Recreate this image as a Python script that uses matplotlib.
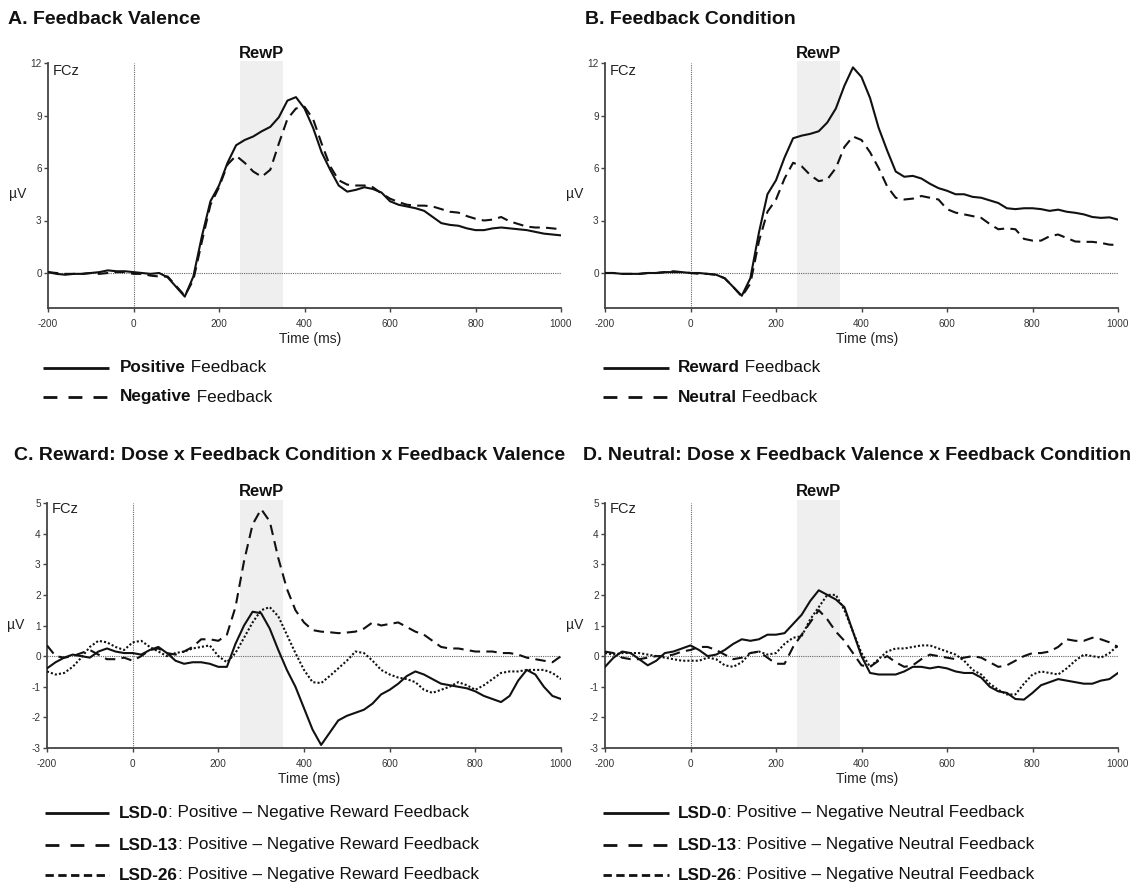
import numpy as np
import matplotlib
matplotlib.use('Agg')
import matplotlib.pyplot as plt
from matplotlib.lines import Line2D

plt.rcParams['font.family'] = ['Liberation Sans', 'DejaVu Sans']
plt.rcParams['axes.unicode_minus'] = False

# time grid (ms), shared by all curves
times = list(range(-200, 1001, 20))

# A. Feedback Valence
pos_fb = [0.05, -0.05, -0.1, -0.05, -0.05, 0.0, 0.05, 0.15, 0.1, 0.1, 0.05, 0.0, -0.05, 0.0, -0.25, -0.8,
          -1.35, -0.2, 2.1, 4.1, 5.0, 6.3, 7.3, 7.6, 7.8, 8.1, 8.35, 8.9, 9.85, 10.05, 9.4, 8.3, 6.9, 5.9,
          5.0, 4.65, 4.75, 4.9, 4.8, 4.6, 4.1, 3.9, 3.8, 3.7, 3.55, 3.2, 2.85, 2.75, 2.7, 2.55, 2.45, 2.45,
          2.55, 2.6, 2.55, 2.5, 2.45, 2.35, 2.25, 2.2, 2.15]
neg_fb = [0.05, 0.0, -0.05, -0.05, -0.05, 0.0, -0.05, 0.0, 0.05, 0.05, -0.05, -0.05, -0.15, -0.2, -0.2, -0.75,
          -1.3, -0.4, 1.8, 3.9, 4.9, 6.2, 6.7, 6.3, 5.8, 5.5, 5.9, 7.4, 8.8, 9.4, 9.5, 8.8, 7.4, 6.1,
          5.3, 5.05, 5.0, 5.0, 4.9, 4.55, 4.25, 4.05, 3.9, 3.85, 3.85, 3.8, 3.65, 3.5, 3.45, 3.25, 3.1, 3.0,
          3.05, 3.2, 2.95, 2.8, 2.65, 2.6, 2.6, 2.55, 2.5]

# B. Feedback Condition
reward_fb = [0.0, 0.0, -0.05, -0.05, -0.05, 0.0, 0.0, 0.05, 0.05, 0.05, 0.0, 0.0, -0.05, -0.1, -0.3, -0.8,
             -1.3, -0.3, 2.3, 4.5, 5.3, 6.6, 7.7, 7.85, 7.95, 8.1, 8.6, 9.4, 10.7, 11.75, 11.2, 10.0, 8.3, 7.0,
             5.8, 5.5, 5.55, 5.4, 5.1, 4.85, 4.7, 4.5, 4.5, 4.35, 4.3, 4.15, 4.0, 3.7, 3.65, 3.7, 3.7, 3.65,
             3.55, 3.62, 3.5, 3.44, 3.35, 3.2, 3.15, 3.18, 3.05]
neutral_fb = [0.0, 0.0, -0.05, -0.05, -0.05, 0.0, 0.0, 0.05, 0.1, 0.05, 0.0, -0.05, -0.05, -0.1, -0.3, -0.8,
              -1.35, -0.6, 1.8, 3.5, 4.2, 5.4, 6.3, 6.1, 5.6, 5.25, 5.35, 6.0, 7.2, 7.8, 7.6, 6.9, 6.0, 4.95,
              4.3, 4.2, 4.25, 4.4, 4.3, 4.2, 3.65, 3.45, 3.35, 3.25, 3.15, 2.8, 2.5, 2.55, 2.5, 1.95, 1.85, 1.85,
              2.1, 2.2, 2.0, 1.8, 1.78, 1.78, 1.72, 1.62, 1.6]

# C. Reward difference waves
rew_lsd0 = [-0.4, -0.2, -0.05, 0.05, 0.0, -0.05, 0.15, 0.25, 0.15, 0.1, 0.1, 0.05, 0.2, 0.3, 0.1, -0.15,
            -0.25, -0.2, -0.2, -0.25, -0.35, -0.35, 0.4, 1.0, 1.45, 1.4, 0.9, 0.2, -0.45, -1.0, -1.7, -2.4,
            -2.9, -2.5, -2.1, -1.95, -1.85, -1.75, -1.55, -1.25, -1.1, -0.9, -0.65, -0.5, -0.6, -0.75, -0.9,
            -0.95, -1.0, -1.05, -1.15, -1.3, -1.4, -1.5, -1.3, -0.8, -0.45, -0.6, -1.0, -1.3, -1.4]
rew_lsd13 = [0.35, 0.0, -0.05, 0.0, 0.1, 0.2, 0.05, -0.1, -0.1, -0.05, -0.15, 0.0, 0.2, 0.25, 0.1, 0.05,
             0.15, 0.3, 0.55, 0.55, 0.5, 0.7, 1.6, 3.1, 4.3, 4.8, 4.4, 3.2, 2.2, 1.5, 1.1, 0.85,
             0.8, 0.78, 0.75, 0.77, 0.8, 0.9, 1.1, 1.0, 1.05, 1.1, 0.95, 0.8, 0.7, 0.5, 0.3,
             0.25, 0.25, 0.2, 0.15, 0.15, 0.15, 0.1, 0.1, 0.05, -0.05, -0.1, -0.15, -0.2, 0.0]
rew_lsd26 = [-0.5, -0.6, -0.55, -0.35, -0.05, 0.3, 0.5, 0.45, 0.3, 0.2, 0.45, 0.5, 0.3, 0.15, 0.0, 0.1,
             0.15, 0.25, 0.3, 0.35, 0.0, -0.2, 0.1, 0.6, 1.1, 1.5, 1.6, 1.3, 0.7, 0.1, -0.45, -0.85,
             -0.88, -0.65, -0.4, -0.15, 0.15, 0.1, -0.15, -0.45, -0.6, -0.7, -0.75, -0.85, -1.1, -1.2, -1.1,
             -1.0, -0.85, -0.95, -1.1, -0.95, -0.75, -0.55, -0.5, -0.5, -0.45, -0.45, -0.45, -0.55, -0.75]

# D. Neutral difference waves
neu_lsd0 = [-0.35, -0.05, 0.15, 0.1, -0.1, -0.3, -0.15, 0.1, 0.15, 0.25, 0.35, 0.2, 0.0, 0.05, 0.2, 0.4,
            0.55, 0.5, 0.55, 0.7, 0.7, 0.75, 1.05, 1.35, 1.8, 2.15, 2.0, 1.85, 1.6, 0.8, 0.0, -0.55,
            -0.6, -0.6, -0.6, -0.5, -0.35, -0.35, -0.4, -0.35, -0.4, -0.5, -0.55, -0.55, -0.7, -1.0, -1.15,
            -1.2, -1.4, -1.42, -1.2, -0.95, -0.85, -0.75, -0.8, -0.85, -0.9, -0.9, -0.8, -0.75, -0.55]
neu_lsd13 = [0.15, 0.1, -0.05, -0.1, -0.1, -0.05, 0.0, 0.0, 0.05, 0.15, 0.2, 0.3, 0.3, 0.2, 0.05, -0.1,
             -0.05, 0.1, 0.15, -0.05, -0.25, -0.25, 0.3, 0.7, 1.1, 1.5, 1.2, 0.8, 0.5, 0.1, -0.3, -0.35,
             -0.15, 0.0, -0.2, -0.35, -0.3, -0.1, 0.05, 0.0, -0.05, -0.1, -0.05, 0.0, -0.05, -0.2, -0.35,
             -0.3, -0.15, 0.0, 0.1, 0.1, 0.15, 0.3, 0.55, 0.5, 0.5, 0.6, 0.55, 0.45, 0.3]
neu_lsd26 = [0.1, 0.05, 0.1, 0.1, 0.1, 0.05, 0.0, -0.05, -0.1, -0.15, -0.15, -0.15, -0.05, -0.1, -0.3, -0.35,
             -0.2, 0.1, 0.15, 0.05, 0.1, 0.4, 0.6, 0.65, 1.2, 1.6, 2.0, 2.0, 1.5, 0.8, 0.1, -0.35,
             -0.1, 0.15, 0.25, 0.25, 0.3, 0.35, 0.35, 0.25, 0.15, 0.05, -0.15, -0.45, -0.6, -0.9, -1.1,
             -1.25, -1.25, -0.9, -0.6, -0.5, -0.55, -0.6, -0.4, -0.15, 0.05, 0.0, -0.05, 0.1, 0.35]

W, H = 1133, 885
AX_COL = '#444444'
LINE_COL = '#111111'
DASH = (0, (5, 3))
DOT = (0, (1, 1))
LEG_FS = 12.3


def px(x, y):
    # pixel coords (from top-left) -> figure fraction
    return x / W, 1 - y / H


def make_axes(fig, left, right, top, bottom):
    l, b = px(left, bottom)
    return fig.add_axes([l, b, (right - left) / W, (bottom - top) / H])


def style_axes(ax, ylo, yhi, yticks, rewp_y, shade_top, fcz_y, uv_y):
    ax.set_xlim(-200, 1000)
    ax.set_ylim(ylo, yhi)
    ax.axvspan(250, 350, ymin=0, ymax=shade_top, color='#efefef', lw=0, clip_on=False, zorder=0)
    ax.axhline(0, color='#666666', lw=0.8, ls=DOT, zorder=1)
    ax.axvline(0, color='#666666', lw=0.8, ls=DOT, zorder=1)
    for s in ['top', 'right']:
        ax.spines[s].set_visible(False)
    for s in ['left', 'bottom']:
        ax.spines[s].set_color(AX_COL)
        ax.spines[s].set_linewidth(1.3)
    ax.set_xticks(range(-200, 1001, 200))
    ax.set_yticks(yticks)
    ax.tick_params(axis='both', direction='out', length=3, width=1, color=AX_COL,
                   labelsize=7.2, labelcolor='#333333')
    ax.tick_params(axis='x', pad=5)
    ax.tick_params(axis='y', pad=1.5)
    ax.text(300, rewp_y, 'RewP', ha='center', va='center', fontsize=12, fontweight='bold',
            color='#111111', clip_on=False)
    ax.text(-189, fcz_y, 'FCz', ha='left', va='center', fontsize=10.5, color='#222222')
    ax.text(-0.06, uv_y, 'µV', transform=ax.get_yaxis_transform(), ha='center', va='center',
            fontsize=10, color='#222222')
    ax.annotate('Time (ms)', xy=(0.51, 0), xycoords='axes fraction', xytext=(0, -22),
                textcoords='offset points', ha='center', va='center', fontsize=10, color='#222222')


def legend_row(fig, x0, x1, xt, y, ls, bold, rest, lw=2.0):
    fx0, fy = px(x0, y)
    fx1, _ = px(x1, y)
    fig.add_artist(Line2D([fx0, fx1], [fy, fy], color=LINE_COL, lw=lw, ls=ls,
                          solid_capstyle='butt', dash_capstyle='butt'))
    # text baseline a bit below the line centre
    fxt, fyb = px(xt, y + 4.5)
    t1 = fig.text(fxt, fyb, bold, ha='left', va='baseline', fontsize=LEG_FS, fontweight='bold',
                  color='#111111')
    bb = t1.get_window_extent(renderer=fig.canvas.get_renderer())
    fig.text(bb.x1 / W, fyb, rest, ha='left', va='baseline', fontsize=LEG_FS, color='#111111')


def main():
    fig = plt.figure(figsize=(W / 100, H / 100), dpi=100)

    # panel titles
    for (x, y, s) in [(8, 20, 'A. Feedback Valence'), (585, 20, 'B. Feedback Condition'),
                      (14, 455, 'C. Reward: Dose x Feedback Condition x Feedback Valence'),
                      (583, 455, 'D. Neutral: Dose x Feedback Valence x Feedback Condition')]:
        fx, fy = px(x, y)
        fig.text(fx, fy, s, ha='left', va='center', fontsize=14, fontweight='bold', color='#111111')

    ax_a = make_axes(fig, 48, 561, 63, 308)
    ax_b = make_axes(fig, 605, 1118, 63, 308)
    ax_c = make_axes(fig, 47, 561, 503, 748)
    ax_d = make_axes(fig, 605, 1118, 503, 748)

    for ax in [ax_a, ax_b]:
        style_axes(ax, -2, 12, [0, 3, 6, 9, 12], 12.55, 1.01, 11.55, 4.5)
    for ax in [ax_c, ax_d]:
        style_axes(ax, -3, 5, range(-3, 6), 5.36, 1.012, 4.8, 1.0)

    ax_a.plot(times, pos_fb, color=LINE_COL, lw=1.5, zorder=3)
    ax_a.plot(times, neg_fb, color=LINE_COL, lw=1.5, ls=DASH, zorder=3)
    ax_b.plot(times, reward_fb, color=LINE_COL, lw=1.5, zorder=3)
    ax_b.plot(times, neutral_fb, color=LINE_COL, lw=1.5, ls=DASH, zorder=3)

    ax_c.plot(times, rew_lsd0, color=LINE_COL, lw=1.5, zorder=3)
    ax_c.plot(times, rew_lsd13, color=LINE_COL, lw=1.5, ls=DASH, zorder=3)
    ax_c.plot(times, rew_lsd26, color=LINE_COL, lw=1.5, ls=DOT, zorder=3)
    ax_d.plot(times, neu_lsd0, color=LINE_COL, lw=1.5, zorder=3)
    ax_d.plot(times, neu_lsd13, color=LINE_COL, lw=1.5, ls=DASH, zorder=3)
    ax_d.plot(times, neu_lsd26, color=LINE_COL, lw=1.5, ls=DOT, zorder=3)

    leg_dash = (0, (5, 4))
    leg_short = (0, (3, 1.6))

    legend_row(fig, 43, 109, 120, 368, '-', 'Positive', ' Feedback')
    legend_row(fig, 43, 109, 120, 397, leg_dash, 'Negative', ' Feedback')
    legend_row(fig, 603, 669, 678, 368, '-', 'Reward', ' Feedback')
    legend_row(fig, 603, 669, 678, 397, leg_dash, 'Neutral', ' Feedback')

    for (x0, x1, xt, kind) in [(45, 109, 119, 'Reward'), (603, 669, 678, 'Neutral')]:
        rest = ': Positive \u2013 Negative %s Feedback' % kind
        legend_row(fig, x0, x1, xt, 813, '-', 'LSD-0', rest)
        legend_row(fig, x0, x1, xt, 845, leg_dash, 'LSD-13', rest)
        legend_row(fig, x0, x1, xt, 875, leg_short, 'LSD-26', rest)

    fig.savefig('out.png', dpi=100)


if __name__ == '__main__':
    main()
